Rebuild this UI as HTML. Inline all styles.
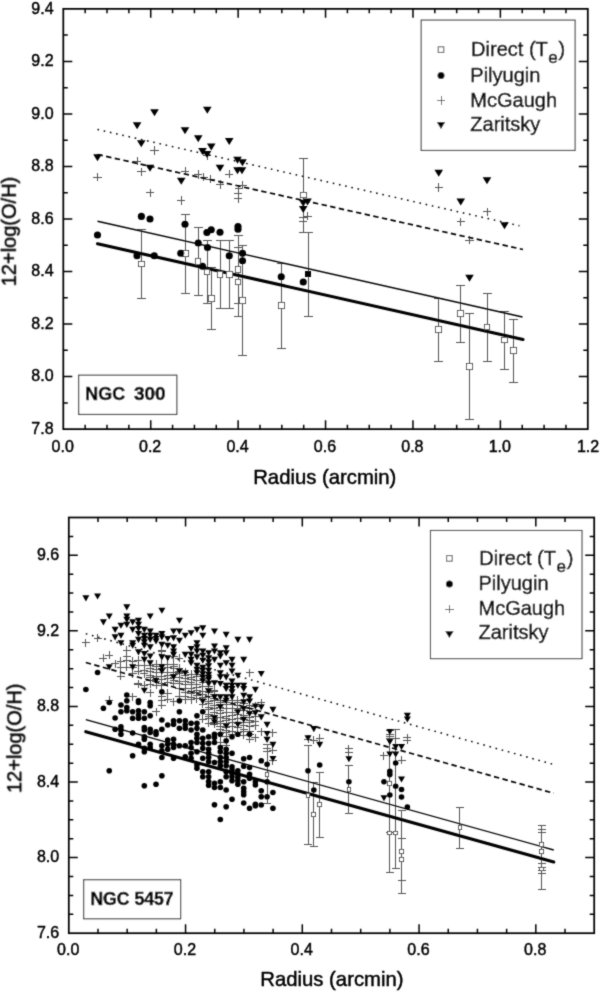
<!DOCTYPE html>
<html lang="en">
<head>
<meta charset="utf-8">
<title>12+log(O/H) versus Radius: NGC 300 and NGC 5457</title>
<style>
html,body{margin:0;padding:0;background:#fff;}
body{width:600px;height:993px;overflow:hidden;}
svg{display:block;will-change:transform;}
text{font-family:"Liberation Sans",Arial,Helvetica,sans-serif;fill:#000;stroke:#000;stroke-width:0.45px;}
.tk{font-size:16px;}
.ax{font-size:20px;}
.ng{font-size:18.4px;font-weight:bold;}
.axx{font-size:20.3px;}
</style>
</head>
<body>
<svg width="600" height="993" viewBox="0 0 600 993">
<defs><filter id="soft" x="0" y="0" width="600" height="993" filterUnits="userSpaceOnUse"><feConvolveMatrix order="3" kernelMatrix="0.03 0.09 0.03 0.09 0.52 0.09 0.03 0.09 0.03" edgeMode="duplicate" preserveAlpha="false"/></filter></defs>
<rect width="600" height="993" fill="#fff"/>
<g filter="url(#soft)">
<g id="ngc300">
<path d="M85.15 429.15v-4.5M85.15 8.85v4.5M107.01 429.15v-4.5M107.01 8.85v4.5M128.86 429.15v-4.5M128.86 8.85v4.5M150.72 429.15v-9M150.72 8.85v9M172.57 429.15v-4.5M172.57 8.85v4.5M194.43 429.15v-4.5M194.43 8.85v4.5M216.28 429.15v-4.5M216.28 8.85v4.5M238.13 429.15v-9M238.13 8.85v9M259.99 429.15v-4.5M259.99 8.85v4.5M281.84 429.15v-4.5M281.84 8.85v4.5M303.7 429.15v-4.5M303.7 8.85v4.5M325.55 429.15v-9M325.55 8.85v9M347.4 429.15v-4.5M347.4 8.85v4.5M369.26 429.15v-4.5M369.26 8.85v4.5M391.11 429.15v-4.5M391.11 8.85v4.5M412.97 429.15v-9M412.97 8.85v9M434.82 429.15v-4.5M434.82 8.85v4.5M456.68 429.15v-4.5M456.68 8.85v4.5M478.53 429.15v-4.5M478.53 8.85v4.5M500.38 429.15v-9M500.38 8.85v9M522.24 429.15v-4.5M522.24 8.85v4.5M544.09 429.15v-4.5M544.09 8.85v4.5M565.95 429.15v-4.5M565.95 8.85v4.5M63.3 402.88h4.5M587.8 402.88h-4.5M63.3 376.61h9M587.8 376.61h-9M63.3 350.34h4.5M587.8 350.34h-4.5M63.3 324.08h9M587.8 324.08h-9M63.3 297.81h4.5M587.8 297.81h-4.5M63.3 271.54h9M587.8 271.54h-9M63.3 245.27h4.5M587.8 245.27h-4.5M63.3 219h9M587.8 219h-9M63.3 192.73h4.5M587.8 192.73h-4.5M63.3 166.46h9M587.8 166.46h-9M63.3 140.19h4.5M587.8 140.19h-4.5M63.3 113.93h9M587.8 113.93h-9M63.3 87.66h4.5M587.8 87.66h-4.5M63.3 61.39h9M587.8 61.39h-9M63.3 35.12h4.5M587.8 35.12h-4.5" stroke="#000" stroke-width="1.5" fill="none"/>
<rect x="63.3" y="8.85" width="524.5" height="420.3" fill="none" stroke="#000" stroke-width="1.75"/>
<text x="53.6" y="433.85" text-anchor="end" class="tk">7.8</text>
<text x="53.6" y="381.31" text-anchor="end" class="tk">8.0</text>
<text x="53.6" y="328.78" text-anchor="end" class="tk">8.2</text>
<text x="53.6" y="276.24" text-anchor="end" class="tk">8.4</text>
<text x="53.6" y="223.7" text-anchor="end" class="tk">8.6</text>
<text x="53.6" y="171.16" text-anchor="end" class="tk">8.8</text>
<text x="53.6" y="118.63" text-anchor="end" class="tk">9.0</text>
<text x="53.6" y="66.09" text-anchor="end" class="tk">9.2</text>
<text x="53.6" y="13.55" text-anchor="end" class="tk">9.4</text>
<text x="62.7" y="451.6" text-anchor="middle" class="tk">0.0</text>
<text x="150.12" y="451.6" text-anchor="middle" class="tk">0.2</text>
<text x="237.53" y="451.6" text-anchor="middle" class="tk">0.4</text>
<text x="324.95" y="451.6" text-anchor="middle" class="tk">0.6</text>
<text x="412.37" y="451.6" text-anchor="middle" class="tk">0.8</text>
<text x="499.78" y="451.6" text-anchor="middle" class="tk">1.0</text>
<text x="588.1" y="451.6" text-anchor="middle" class="tk">1.2</text>
<text x="324.8" y="484.3" text-anchor="middle" class="axx">Radius (arcmin)</text>
<text transform="translate(15.8 231.5) rotate(-90)" text-anchor="middle" class="ax">12+log(O/H)</text>
<path d="M141.4 229.5V298.25M136.9 229.5h9M136.9 298.25h9M185.5 214.25V293M181 214.25h9M181 293h9M198.1 227V295.5M193.6 227h9M193.6 295.5h9M207 240V303M202.5 240h9M202.5 303h9M211.25 267V329.5M206.75 267h9M206.75 329.5h9M220 240V308.75M215.5 240h9M215.5 308.75h9M229.25 240V308.75M224.75 240h9M224.75 308.75h9M238 235V303.5M233.5 235h9M233.5 303.5h9M238 247.25V316.5M233.5 247.25h9M233.5 316.5h9M242.5 245.75V355.75M238 245.75h9M238 355.75h9M281.25 263.75V348M276.75 263.75h9M276.75 348h9M303.25 158.25V232.5M298.75 158.25h9M298.75 232.5h9M308 232V316.5M303.5 232h9M303.5 316.5h9M438.75 298.75V361.25M434.25 298.75h9M434.25 361.25h9M460.75 285V342.5M456.25 285h9M456.25 342.5h9M469.5 313.75V419.25M465 313.75h9M465 419.25h9M487 293V361.25M482.5 293h9M482.5 361.25h9M504.5 311.75V369.25M500 311.75h9M500 369.25h9M513.25 319.5V382M508.75 319.5h9M508.75 382h9" stroke="#525252" stroke-width="1" fill="none" shape-rendering="crispEdges"/>
<path d="M93.3 177h8.4M97.5 172.8v8.4M133 161h8.4M137.2 156.8v8.4M137.2 171.8h8.4M141.4 167.6v8.4M150.3 150.5h8.4M154.5 146.3v8.4M145.8 192.9h8.4M150 188.7v8.4M177.05 200.5h8.4M181.25 196.3v8.4M180.8 171.25h8.4M185 167.05v8.4M193.8 174.5h8.4M198 170.3v8.4M199.55 177h8.4M203.75 172.8v8.4M202.8 155.5h8.4M207 151.3v8.4M206.3 179.25h8.4M210.5 175.05v8.4M215.8 184.5h8.4M220 180.3v8.4M225.05 174.25h8.4M229.25 170.05v8.4M234.55 188.75h8.4M238.75 184.55v8.4M238.3 185h8.4M242.5 180.8v8.4M233.8 193h8.4M238 188.8v8.4M233.8 198.75h8.4M238 194.55v8.4M299.05 217.5h8.4M303.25 213.3v8.4M303.3 216.25h8.4M307.5 212.05v8.4M299.05 221.25h8.4M303.25 217.05v8.4M434.55 187.5h8.4M438.75 183.3v8.4M482.8 211.75h8.4M487 207.55v8.4M456.55 221.75h8.4M460.75 217.55v8.4M465.3 240h8.4M469.5 235.8v8.4" stroke="#525252" stroke-width="1" fill="none" shape-rendering="crispEdges"/>
<line x1="97.5" y1="129.5" x2="519.5" y2="225.75" stroke="#000" stroke-width="1.5" stroke-dasharray="1.6 4.75"/>
<line x1="97.5" y1="154.5" x2="523" y2="249.5" stroke="#000" stroke-width="1.7" stroke-dasharray="5.4 3.43"/>
<line x1="97.5" y1="221.25" x2="522.5" y2="317" stroke="#000" stroke-width="1.3"/>
<line x1="97.5" y1="243.75" x2="523" y2="339.5" stroke="#000" stroke-width="3.1" stroke-linecap="round"/>
<g fill="#fff" stroke="#484848" stroke-width="1" shape-rendering="crispEdges"><rect x="138.6" y="261.2" width="5.6" height="5.6"/><rect x="182.7" y="250.45" width="5.6" height="5.6"/><rect x="195.3" y="258.45" width="5.6" height="5.6"/><rect x="204.2" y="269.2" width="5.6" height="5.6"/><rect x="208.45" y="295.45" width="5.6" height="5.6"/><rect x="217.2" y="271.45" width="5.6" height="5.6"/><rect x="226.45" y="271.45" width="5.6" height="5.6"/><rect x="235.2" y="266.45" width="5.6" height="5.6"/><rect x="235.2" y="279.2" width="5.6" height="5.6"/><rect x="239.7" y="297.95" width="5.6" height="5.6"/><rect x="278.45" y="302.95" width="5.6" height="5.6"/><rect x="300.45" y="192.2" width="5.6" height="5.6"/><rect x="304.9" y="271.15" width="6.2" height="6.2" fill="#000" stroke="none"/><rect x="435.95" y="326.7" width="5.6" height="5.6"/><rect x="457.95" y="310.95" width="5.6" height="5.6"/><rect x="466.7" y="363.45" width="5.6" height="5.6"/><rect x="484.2" y="324.2" width="5.6" height="5.6"/><rect x="501.7" y="337.2" width="5.6" height="5.6"/><rect x="510.45" y="347.7" width="5.6" height="5.6"/></g>
<g fill="#000"><circle cx="97.5" cy="235" r="3.55"/><circle cx="141.4" cy="216.4" r="3.55"/><circle cx="150" cy="219" r="3.55"/><circle cx="185" cy="224.25" r="3.55"/><circle cx="137" cy="255.75" r="3.55"/><circle cx="154.25" cy="255.75" r="3.55"/><circle cx="180.75" cy="253.25" r="3.55"/><circle cx="198.25" cy="243" r="3.55"/><circle cx="202.5" cy="266.25" r="3.55"/><circle cx="206.9" cy="232.5" r="3.55"/><circle cx="207.5" cy="247.5" r="3.55"/><circle cx="211.25" cy="229.8" r="3.55"/><circle cx="220" cy="232.2" r="3.55"/><circle cx="229.25" cy="255.75" r="3.55"/><circle cx="238" cy="226.5" r="3.55"/><circle cx="238" cy="229.3" r="3.55"/><circle cx="242.5" cy="253.25" r="3.55"/><circle cx="242.5" cy="260.75" r="3.55"/><circle cx="281.25" cy="276.75" r="3.55"/><circle cx="303.25" cy="282" r="3.55"/></g>
<g fill="#000"><path d="M93.2 154.25h8.6l-4.3 7.1z"/><path d="M132.8 122.25h8.6l-4.3 7.1z"/><path d="M150.2 109.25h8.6l-4.3 7.1z"/><path d="M136.95 140.25h8.6l-4.3 7.1z"/><path d="M145.7 164.75h8.6l-4.3 7.1z"/><path d="M180.7 127.25h8.6l-4.3 7.1z"/><path d="M176.95 177.75h8.6l-4.3 7.1z"/><path d="M193.95 135.25h8.6l-4.3 7.1z"/><path d="M203 106.75h8.6l-4.3 7.1z"/><path d="M198.2 148h8.6l-4.3 7.1z"/><path d="M202.7 151h8.6l-4.3 7.1z"/><path d="M206.95 143.5h8.6l-4.3 7.1z"/><path d="M215.7 164.75h8.6l-4.3 7.1z"/><path d="M224.95 138h8.6l-4.3 7.1z"/><path d="M233.2 156.75h8.6l-4.3 7.1z"/><path d="M238.2 159.25h8.6l-4.3 7.1z"/><path d="M233.2 167.25h8.6l-4.3 7.1z"/><path d="M237.7 167.25h8.6l-4.3 7.1z"/><path d="M303.2 198.5h8.6l-4.3 7.1z"/><path d="M298.95 199.75h8.6l-4.3 7.1z"/><path d="M298.95 206h8.6l-4.3 7.1z"/><path d="M434.45 169.75h8.6l-4.3 7.1z"/><path d="M482.7 177.25h8.6l-4.3 7.1z"/><path d="M456.45 198.5h8.6l-4.3 7.1z"/><path d="M500.2 222.25h8.6l-4.3 7.1z"/><path d="M465.2 274.75h8.6l-4.3 7.1z"/></g>
<rect x="421.2" y="20.1" width="153.9" height="130.3" fill="#fff" stroke="#3c3c3c" stroke-width="1.1"/><text x="471.1" y="56.1" class="ax">Direct (T<tspan dy="7.3" dx="0.6" font-size="17">e</tspan><tspan dy="-7.3" dx="0.6">)</tspan></text><text x="470.3" y="81.6" class="ax">Pilyugin</text><text x="470.3" y="106.5" class="ax">McGaugh</text><text x="470.3" y="131.2" class="ax">Zaritsky</text><rect x="438.2" y="46.8" width="5.6" height="5.6" fill="#fff" stroke="#555" stroke-width="1"/><circle cx="441" cy="75.4" r="3.5" fill="#000"/><path d="M436.8 100.6h8.4M441 96.4v8.4" stroke="#525252" stroke-width="1" fill="none" shape-rendering="crispEdges"/><g fill="#000"><path d="M436.8 122.05h8.4l-4.2 6.9z"/></g>
<rect x="78.7" y="375.2" width="98.1" height="39.2" fill="#fff" stroke="#333" stroke-width="1.1"/>
<text y="400.3" class="ng"><tspan x="85.3" font-size="17.9">NGC</tspan> <tspan x="133.9" font-size="19">300</tspan></text>
</g>
<g id="ngc5457">
<path d="M97.99 933.2v-4.5M97.99 517.5v4.5M127.18 933.2v-4.5M127.18 517.5v4.5M156.37 933.2v-4.5M156.37 517.5v4.5M185.56 933.2v-9M185.56 517.5v9M214.74 933.2v-4.5M214.74 517.5v4.5M243.93 933.2v-4.5M243.93 517.5v4.5M273.12 933.2v-4.5M273.12 517.5v4.5M302.31 933.2v-9M302.31 517.5v9M331.5 933.2v-4.5M331.5 517.5v4.5M360.69 933.2v-4.5M360.69 517.5v4.5M389.88 933.2v-4.5M389.88 517.5v4.5M419.07 933.2v-9M419.07 517.5v9M448.26 933.2v-4.5M448.26 517.5v4.5M477.44 933.2v-4.5M477.44 517.5v4.5M506.63 933.2v-4.5M506.63 517.5v4.5M535.82 933.2v-9M535.82 517.5v9M565.01 933.2v-4.5M565.01 517.5v4.5M68.8 914.3h4.5M594.2 914.3h-4.5M68.8 895.41h4.5M594.2 895.41h-4.5M68.8 876.51h4.5M594.2 876.51h-4.5M68.8 857.62h9M594.2 857.62h-9M68.8 838.72h4.5M594.2 838.72h-4.5M68.8 819.83h4.5M594.2 819.83h-4.5M68.8 800.93h4.5M594.2 800.93h-4.5M68.8 782.04h9M594.2 782.04h-9M68.8 763.14h4.5M594.2 763.14h-4.5M68.8 744.25h4.5M594.2 744.25h-4.5M68.8 725.35h4.5M594.2 725.35h-4.5M68.8 706.45h9M594.2 706.45h-9M68.8 687.56h4.5M594.2 687.56h-4.5M68.8 668.66h4.5M594.2 668.66h-4.5M68.8 649.77h4.5M594.2 649.77h-4.5M68.8 630.87h9M594.2 630.87h-9M68.8 611.98h4.5M594.2 611.98h-4.5M68.8 593.08h4.5M594.2 593.08h-4.5M68.8 574.19h4.5M594.2 574.19h-4.5M68.8 555.29h9M594.2 555.29h-9M68.8 536.4h4.5M594.2 536.4h-4.5" stroke="#000" stroke-width="1.5" fill="none"/>
<rect x="68.8" y="517.5" width="525.4" height="415.7" fill="none" stroke="#000" stroke-width="1.75"/>
<text x="59.2" y="937.9" text-anchor="end" class="tk">7.6</text>
<text x="59.2" y="862.32" text-anchor="end" class="tk">8.0</text>
<text x="59.2" y="786.74" text-anchor="end" class="tk">8.4</text>
<text x="59.2" y="711.15" text-anchor="end" class="tk">8.8</text>
<text x="59.2" y="635.57" text-anchor="end" class="tk">9.2</text>
<text x="59.2" y="559.99" text-anchor="end" class="tk">9.6</text>
<text x="68.2" y="955" text-anchor="middle" class="tk">0.0</text>
<text x="184.96" y="955" text-anchor="middle" class="tk">0.2</text>
<text x="301.71" y="955" text-anchor="middle" class="tk">0.4</text>
<text x="418.47" y="955" text-anchor="middle" class="tk">0.6</text>
<text x="535.22" y="955" text-anchor="middle" class="tk">0.8</text>
<text x="331.9" y="986.3" text-anchor="middle" class="axx">Radius (arcmin)</text>
<text transform="translate(21.3 738.3) rotate(-90)" text-anchor="middle" class="ax">12+log(O/H)</text>
<path d="M267.08 744.2V803M263.08 744.2h8M263.08 803h8M308 745.8V844.5M304 745.8h8M304 844.5h8M313.84 782.2V846.3M309.84 782.2h8M309.84 846.3h8M319.68 772.5V837M315.68 772.5h8M315.68 837h8M348.91 765V813.75M344.91 765h8M344.91 813.75h8M389.82 730V872.5M385.82 730h8M385.82 872.5h8M395.67 729.5V868.75M391.67 729.5h8M391.67 868.75h8M401.51 810.5V893M397.51 810.5h8M397.51 838.75h8M397.51 880.5h8M397.51 893h8M459.97 807V848.25M455.97 807h8M455.97 848.25h8M541.79 825.5V889.75M537.79 825.5h8M537.79 829.5h8M537.79 832.5h8M537.79 863.5h8M537.79 867h8M537.79 870.5h8M537.79 873.5h8M537.79 889.75h8" stroke="#525252" stroke-width="1" fill="none" shape-rendering="crispEdges"/>
<path d="M81.88 642.5h8M85.88 638.5v8M93.57 638.3h8M97.57 634.3v8M99.42 658.3h8M103.42 654.3v8M105.26 655h8M109.26 651v8M105.26 700h8M109.26 696v8M111.11 663.75h8M115.11 659.75v8M116.95 661.25h8M120.95 657.25v8M116.95 667.5h8M120.95 663.5v8M116.95 676.25h8M120.95 672.25v8M122.8 650h8M126.8 646v8M122.8 656.25h8M126.8 652.25v8M122.8 660h8M126.8 656v8M122.8 667h8M126.8 663v8M128.64 661.25h8M132.64 657.25v8M128.64 667.5h8M132.64 663.5v8M128.64 673.75h8M132.64 669.75v8M128.64 696.5h8M132.64 692.5v8M134.49 660h8M138.49 656v8M134.49 665h8M138.49 661v8M134.49 671.25h8M138.49 667.25v8M134.49 683.75h8M138.49 679.75v8M134.49 684.2h8M138.49 680.2v8M140.33 665h8M144.33 661v8M140.33 670h8M144.33 666v8M140.33 673.75h8M144.33 669.75v8M140.33 685h8M144.33 681v8M146.18 665h8M150.18 661v8M146.18 668.8h8M150.18 664.8v8M146.18 671.5h8M150.18 667.5v8M146.18 675.3h8M150.18 671.3v8M146.18 677.4h8M150.18 673.4v8M146.18 680.8h8M150.18 676.8v8M146.18 684.1h8M150.18 680.1v8M146.18 692.5h8M150.18 688.5v8M152.02 664h8M156.02 660v8M152.02 666.9h8M156.02 662.9v8M152.02 669.5h8M156.02 665.5v8M152.02 672.4h8M156.02 668.4v8M152.02 676.7h8M156.02 672.7v8M152.02 679h8M156.02 675v8M152.02 681.7h8M156.02 677.7v8M152.02 685.4h8M156.02 681.4v8M152.02 711.5h8M156.02 707.5v8M157.87 650h8M161.87 646v8M157.87 651.7h8M161.87 647.7v8M157.87 664h8M161.87 660v8M157.87 668.7h8M161.87 664.7v8M157.87 672.9h8M161.87 668.9v8M157.87 676.1h8M161.87 672.1v8M157.87 679.6h8M161.87 675.6v8M157.87 683.2h8M161.87 679.2v8M157.87 685.8h8M161.87 681.8v8M157.87 696.7h8M161.87 692.7v8M157.87 700.8h8M161.87 696.8v8M157.87 705h8M161.87 701v8M163.71 664h8M167.71 660v8M163.71 667.9h8M167.71 663.9v8M163.71 672.7h8M167.71 668.7v8M163.71 675.5h8M167.71 671.5v8M163.71 678.6h8M167.71 674.6v8M163.71 682.5h8M167.71 678.5v8M163.71 693h8M167.71 689v8M163.71 699h8M167.71 695v8M169.56 656.7h8M173.56 652.7v8M169.56 664h8M173.56 660v8M169.56 666.3h8M173.56 662.3v8M169.56 668.2h8M173.56 664.2v8M169.56 672.3h8M173.56 668.3v8M169.56 674.3h8M173.56 670.3v8M169.56 677.9h8M173.56 673.9v8M169.56 680.4h8M173.56 676.4v8M169.56 683.9h8M173.56 679.9v8M169.56 701.7h8M173.56 697.7v8M175.4 658h8M179.4 654v8M175.4 668h8M179.4 664v8M175.4 671h8M179.4 667v8M175.4 673.4h8M179.4 669.4v8M175.4 677.1h8M179.4 673.1v8M175.4 681h8M179.4 677v8M175.4 683.8h8M179.4 679.8v8M175.4 688.5h8M179.4 684.5v8M175.4 696.7h8M179.4 692.7v8M181.25 672h8M185.25 668v8M181.25 675h8M185.25 671v8M181.25 678.9h8M185.25 674.9v8M181.25 681.1h8M185.25 677.1v8M181.25 684.7h8M185.25 680.7v8M181.25 688.1h8M185.25 684.1v8M181.25 692h8M185.25 688v8M181.25 696.5h8M185.25 692.5v8M181.25 699.5h8M185.25 695.5v8M187.09 674h8M191.09 670v8M187.09 677.7h8M191.09 673.7v8M187.09 679.5h8M191.09 675.5v8M187.09 682.4h8M191.09 678.4v8M187.09 684.6h8M191.09 680.6v8M187.09 688.1h8M191.09 684.1v8M187.09 691h8M191.09 687v8M187.09 693.2h8M191.09 689.2v8M187.09 697.4h8M191.09 693.4v8M187.09 699.5h8M191.09 695.5v8M192.94 674h8M196.94 670v8M192.94 676.4h8M196.94 672.4v8M192.94 680.9h8M196.94 676.9v8M192.94 684.3h8M196.94 680.3v8M192.94 687.6h8M196.94 683.6v8M192.94 690.5h8M196.94 686.5v8M192.94 692.6h8M196.94 688.6v8M192.94 695.8h8M196.94 691.8v8M192.94 698.5h8M196.94 694.5v8M198.78 680h8M202.78 676v8M198.78 682.2h8M202.78 678.2v8M198.78 686.8h8M202.78 682.8v8M198.78 691h8M202.78 687v8M198.78 694.1h8M202.78 690.1v8M198.78 697.6h8M202.78 693.6v8M198.78 699.4h8M202.78 695.4v8M198.78 704.1h8M202.78 700.1v8M198.78 719.2h8M202.78 715.2v8M204.63 686h8M208.63 682v8M204.63 688.9h8M208.63 684.9v8M204.63 692.9h8M208.63 688.9v8M204.63 696.8h8M208.63 692.8v8M204.63 701.1h8M208.63 697.1v8M204.63 703.5h8M208.63 699.5v8M204.63 707.4h8M208.63 703.4v8M204.63 709.3h8M208.63 705.3v8M204.63 714.1h8M208.63 710.1v8M204.63 716h8M208.63 712v8M204.63 718.3h8M208.63 714.3v8M204.63 723.1h8M208.63 719.1v8M210.47 690h8M214.47 686v8M210.47 691.9h8M214.47 687.9v8M210.47 694.5h8M214.47 690.5v8M210.47 698.2h8M214.47 694.2v8M210.47 700.5h8M214.47 696.5v8M210.47 705h8M214.47 701v8M210.47 708.1h8M214.47 704.1v8M210.47 712.5h8M214.47 708.5v8M210.47 715.8h8M214.47 711.8v8M210.47 718.1h8M214.47 714.1v8M210.47 722.2h8M214.47 718.2v8M210.47 724h8M214.47 720v8M216.32 700h8M220.32 696v8M216.32 702.7h8M220.32 698.7v8M216.32 704.9h8M220.32 700.9v8M216.32 707.3h8M220.32 703.3v8M216.32 710.5h8M220.32 706.5v8M216.32 713h8M220.32 709v8M216.32 717.1h8M220.32 713.1v8M216.32 721h8M220.32 717v8M216.32 723.6h8M220.32 719.6v8M216.32 726.1h8M220.32 722.1v8M216.32 729.9h8M220.32 725.9v8M216.32 733.5h8M220.32 729.5v8M216.32 742h8M220.32 738v8M222.16 700h8M226.16 696v8M222.16 702.5h8M226.16 698.5v8M222.16 704.7h8M226.16 700.7v8M222.16 708.1h8M226.16 704.1v8M222.16 712.9h8M226.16 708.9v8M222.16 716h8M226.16 712v8M222.16 718.9h8M226.16 714.9v8M222.16 720.9h8M226.16 716.9v8M222.16 723.6h8M226.16 719.6v8M222.16 727.5h8M226.16 723.5v8M222.16 730h8M226.16 726v8M222.16 732.9h8M226.16 728.9v8M222.16 736h8M226.16 732v8M222.16 745h8M226.16 741v8M228.01 700h8M232.01 696v8M228.01 704.2h8M232.01 700.2v8M228.01 708.7h8M232.01 704.7v8M228.01 712.4h8M232.01 708.4v8M228.01 715.6h8M232.01 711.6v8M228.01 719.1h8M232.01 715.1v8M228.01 722.8h8M232.01 718.8v8M228.01 726.8h8M232.01 722.8v8M228.01 731.3h8M232.01 727.3v8M228.01 734.3h8M232.01 730.3v8M233.85 700h8M237.85 696v8M233.85 702h8M237.85 698v8M233.85 705.1h8M237.85 701.1v8M233.85 708.2h8M237.85 704.2v8M233.85 710.6h8M237.85 706.6v8M233.85 714.3h8M237.85 710.3v8M233.85 718.9h8M237.85 714.9v8M233.85 723h8M237.85 719v8M233.85 727.7h8M237.85 723.7v8M233.85 732.2h8M237.85 728.2v8M239.7 700h8M243.7 696v8M239.7 703.8h8M243.7 699.8v8M239.7 707.1h8M243.7 703.1v8M239.7 710.8h8M243.7 706.8v8M239.7 715.5h8M243.7 711.5v8M239.7 717.4h8M243.7 713.4v8M239.7 719.3h8M243.7 715.3v8M239.7 722.1h8M243.7 718.1v8M239.7 725.7h8M243.7 721.7v8M239.7 729.5h8M243.7 725.5v8M239.7 731.6h8M243.7 727.6v8M239.7 735.2h8M243.7 731.2v8M245.54 672.5h8M249.54 668.5v8M245.54 705h8M249.54 701v8M245.54 708.9h8M249.54 704.9v8M245.54 713.4h8M249.54 709.4v8M245.54 717.7h8M249.54 713.7v8M245.54 720.4h8M249.54 716.4v8M245.54 722.5h8M249.54 718.5v8M245.54 726.5h8M249.54 722.5v8M245.54 731.1h8M249.54 727.1v8M245.54 734.6h8M249.54 730.6v8M245.54 739.1h8M249.54 735.1v8M251.39 706h8M255.39 702v8M251.39 716.7h8M255.39 712.7v8M251.39 721h8M255.39 717v8M251.39 725.8h8M255.39 721.8v8M251.39 737.5h8M255.39 733.5v8M257.24 702.5h8M261.24 698.5v8M257.24 731.7h8M261.24 727.7v8M263.08 748.3h8M267.08 744.3v8M263.08 751.7h8M267.08 747.7v8M268.92 732.5h8M272.92 728.5v8M268.92 750h8M272.92 746v8M268.92 760.8h8M272.92 756.8v8M304 739.2h8M308 735.2v8M309.84 740h8M313.84 736v8M315.68 738.3h8M319.68 734.3v8M344.91 748.75h8M348.91 744.75v8M344.91 752.5h8M348.91 748.5v8M379.98 755.5h8M383.98 751.5v8M385.82 734.6h8M389.82 730.6v8M385.82 736.6h8M389.82 732.6v8M385.82 738.6h8M389.82 734.6v8M385.82 832.5h8M389.82 828.5v8M391.67 738.75h8M395.67 734.75v8M397.51 760h8M401.51 756v8M397.51 838.75h8M401.51 834.75v8M403.36 737.6h8M407.36 733.6v8M403.36 740.2h8M407.36 736.2v8" stroke="#525252" stroke-width="1" fill="none" shape-rendering="crispEdges"/>
<line x1="85.8" y1="633.7" x2="553.75" y2="764.5" stroke="#000" stroke-width="1.5" stroke-dasharray="1.6 4.75"/>
<line x1="85.8" y1="662.5" x2="553.75" y2="793.25" stroke="#000" stroke-width="1.7" stroke-dasharray="5.4 3.43"/>
<line x1="85.8" y1="719.7" x2="553.75" y2="850" stroke="#000" stroke-width="1.3"/>
<line x1="85.8" y1="731.7" x2="553.75" y2="862" stroke="#000" stroke-width="3.1" stroke-linecap="round"/>
<g fill="#fff" stroke="#484848" stroke-width="1" shape-rendering="crispEdges"><rect x="265.18" y="772.3" width="3.8" height="3.8"/><rect x="306.1" y="793.6" width="3.8" height="3.8"/><rect x="311.94" y="812.3" width="3.8" height="3.8"/><rect x="317.78" y="802.8" width="3.8" height="3.8"/><rect x="347.01" y="787.35" width="3.8" height="3.8"/><rect x="387.92" y="781.85" width="3.8" height="3.8"/><rect x="387.92" y="831.1" width="3.8" height="3.8"/><rect x="393.77" y="831.1" width="3.8" height="3.8"/><rect x="399.62" y="849.35" width="3.8" height="3.8"/><rect x="399.62" y="857.6" width="3.8" height="3.8"/><rect x="458.07" y="825.6" width="3.8" height="3.8"/><rect x="539.89" y="842.3" width="3.8" height="3.8"/><rect x="539.89" y="849.7" width="3.8" height="3.8"/><rect x="539.89" y="867.1" width="3.8" height="3.8"/></g>
<g fill="#000"><circle cx="85.88" cy="689.5" r="2.8"/><circle cx="97.57" cy="672.5" r="2.8"/><circle cx="103.42" cy="708.3" r="2.8"/><circle cx="109.26" cy="702.5" r="2.8"/><circle cx="109.26" cy="770.8" r="2.8"/><circle cx="115.11" cy="718" r="2.8"/><circle cx="115.11" cy="729.2" r="2.8"/><circle cx="120.95" cy="705" r="2.8"/><circle cx="120.95" cy="711.7" r="2.8"/><circle cx="120.95" cy="726.7" r="2.8"/><circle cx="120.95" cy="730" r="2.8"/><circle cx="120.95" cy="734.2" r="2.8"/><circle cx="126.8" cy="695" r="2.8"/><circle cx="126.8" cy="700.8" r="2.8"/><circle cx="126.8" cy="707.5" r="2.8"/><circle cx="126.8" cy="710.8" r="2.8"/><circle cx="132.64" cy="711.7" r="2.8"/><circle cx="132.64" cy="718.3" r="2.8"/><circle cx="132.64" cy="733" r="2.8"/><circle cx="132.64" cy="755.8" r="2.8"/><circle cx="138.49" cy="700.8" r="2.8"/><circle cx="138.49" cy="702.5" r="2.8"/><circle cx="138.49" cy="710.8" r="2.8"/><circle cx="138.49" cy="715" r="2.8"/><circle cx="138.49" cy="718.3" r="2.8"/><circle cx="138.49" cy="744.2" r="2.8"/><circle cx="144.33" cy="711.7" r="2.8"/><circle cx="144.33" cy="718.3" r="2.8"/><circle cx="144.33" cy="727.5" r="2.8"/><circle cx="144.33" cy="730" r="2.8"/><circle cx="144.33" cy="736.7" r="2.8"/><circle cx="144.33" cy="739.2" r="2.8"/><circle cx="144.33" cy="748.3" r="2.8"/><circle cx="144.33" cy="751.7" r="2.8"/><circle cx="144.33" cy="785.8" r="2.8"/><circle cx="150.18" cy="702.5" r="2.8"/><circle cx="150.18" cy="705.8" r="2.8"/><circle cx="150.18" cy="715.8" r="2.8"/><circle cx="150.18" cy="729.2" r="2.8"/><circle cx="150.18" cy="732.5" r="2.8"/><circle cx="150.18" cy="744.2" r="2.8"/><circle cx="150.18" cy="747.5" r="2.8"/><circle cx="156.02" cy="731.7" r="2.8"/><circle cx="156.02" cy="734.2" r="2.8"/><circle cx="156.02" cy="784.2" r="2.8"/><circle cx="161.87" cy="691.7" r="2.8"/><circle cx="161.87" cy="720" r="2.8"/><circle cx="161.87" cy="729.2" r="2.8"/><circle cx="161.87" cy="745.8" r="2.8"/><circle cx="161.87" cy="750.8" r="2.8"/><circle cx="161.87" cy="757.5" r="2.8"/><circle cx="161.87" cy="775.8" r="2.8"/><circle cx="167.71" cy="725" r="2.8"/><circle cx="167.71" cy="740" r="2.8"/><circle cx="167.71" cy="744.2" r="2.8"/><circle cx="167.71" cy="749.2" r="2.8"/><circle cx="173.56" cy="720.8" r="2.8"/><circle cx="173.56" cy="724.2" r="2.8"/><circle cx="173.56" cy="739.2" r="2.8"/><circle cx="173.56" cy="744.2" r="2.8"/><circle cx="173.56" cy="747.5" r="2.8"/><circle cx="173.56" cy="758.3" r="2.8"/><circle cx="179.4" cy="700.8" r="2.8"/><circle cx="179.4" cy="711.7" r="2.8"/><circle cx="179.4" cy="720.8" r="2.8"/><circle cx="179.4" cy="728.3" r="2.8"/><circle cx="179.4" cy="745.8" r="2.8"/><circle cx="185.25" cy="720.8" r="2.8"/><circle cx="185.25" cy="725" r="2.8"/><circle cx="185.25" cy="728.3" r="2.8"/><circle cx="185.25" cy="745.8" r="2.8"/><circle cx="185.25" cy="756.7" r="2.8"/><circle cx="191.09" cy="723.3" r="2.8"/><circle cx="191.09" cy="730" r="2.8"/><circle cx="191.09" cy="742.5" r="2.8"/><circle cx="191.09" cy="747.5" r="2.8"/><circle cx="191.09" cy="753.3" r="2.8"/><circle cx="191.09" cy="758.3" r="2.8"/><circle cx="196.94" cy="715.8" r="2.8"/><circle cx="196.94" cy="723.3" r="2.8"/><circle cx="196.94" cy="728.3" r="2.8"/><circle cx="196.94" cy="734.2" r="2.8"/><circle cx="196.94" cy="738.3" r="2.8"/><circle cx="196.94" cy="742.5" r="2.8"/><circle cx="196.94" cy="751.7" r="2.8"/><circle cx="196.94" cy="765" r="2.8"/><circle cx="196.94" cy="768.3" r="2.8"/><circle cx="202.78" cy="711.7" r="2.8"/><circle cx="202.78" cy="730" r="2.8"/><circle cx="202.78" cy="738.3" r="2.8"/><circle cx="202.78" cy="743.3" r="2.8"/><circle cx="202.78" cy="748.3" r="2.8"/><circle cx="202.78" cy="758.3" r="2.8"/><circle cx="202.78" cy="771.7" r="2.8"/><circle cx="202.78" cy="776.7" r="2.8"/><circle cx="208.63" cy="736.7" r="2.8"/><circle cx="208.63" cy="743.3" r="2.8"/><circle cx="208.63" cy="749.2" r="2.8"/><circle cx="208.63" cy="753.3" r="2.8"/><circle cx="208.63" cy="757.5" r="2.8"/><circle cx="208.63" cy="761.7" r="2.8"/><circle cx="208.63" cy="771.7" r="2.8"/><circle cx="208.63" cy="776.7" r="2.8"/><circle cx="208.63" cy="781.6" r="2.8"/><circle cx="208.63" cy="785.2" r="2.8"/><circle cx="214.47" cy="734.2" r="2.8"/><circle cx="214.47" cy="737.5" r="2.8"/><circle cx="214.47" cy="742.5" r="2.8"/><circle cx="214.47" cy="762.5" r="2.8"/><circle cx="214.47" cy="783.3" r="2.8"/><circle cx="214.47" cy="787.5" r="2.8"/><circle cx="214.47" cy="804.7" r="2.8"/><circle cx="220.32" cy="734.2" r="2.8"/><circle cx="220.32" cy="747.5" r="2.8"/><circle cx="220.32" cy="751.7" r="2.8"/><circle cx="220.32" cy="757.5" r="2.8"/><circle cx="220.32" cy="761.7" r="2.8"/><circle cx="220.32" cy="765.8" r="2.8"/><circle cx="220.32" cy="781.7" r="2.8"/><circle cx="220.32" cy="787.5" r="2.8"/><circle cx="220.32" cy="819.5" r="2.8"/><circle cx="226.16" cy="740.8" r="2.8"/><circle cx="226.16" cy="749.2" r="2.8"/><circle cx="226.16" cy="753.3" r="2.8"/><circle cx="226.16" cy="757.5" r="2.8"/><circle cx="226.16" cy="761.7" r="2.8"/><circle cx="226.16" cy="765.8" r="2.8"/><circle cx="226.16" cy="771.7" r="2.8"/><circle cx="226.16" cy="776.7" r="2.8"/><circle cx="226.16" cy="790" r="2.8"/><circle cx="226.16" cy="806.7" r="2.8"/><circle cx="232.01" cy="736.7" r="2.8"/><circle cx="232.01" cy="753.3" r="2.8"/><circle cx="232.01" cy="766.7" r="2.8"/><circle cx="232.01" cy="770" r="2.8"/><circle cx="232.01" cy="773.3" r="2.8"/><circle cx="232.01" cy="776.7" r="2.8"/><circle cx="232.01" cy="780.8" r="2.8"/><circle cx="232.01" cy="799.2" r="2.8"/><circle cx="237.85" cy="734.2" r="2.8"/><circle cx="237.85" cy="770.8" r="2.8"/><circle cx="237.85" cy="774.2" r="2.8"/><circle cx="237.85" cy="777.5" r="2.8"/><circle cx="237.85" cy="780.8" r="2.8"/><circle cx="237.85" cy="784.2" r="2.8"/><circle cx="243.7" cy="758.8" r="2.8"/><circle cx="243.7" cy="766.2" r="2.8"/><circle cx="243.7" cy="781.7" r="2.8"/><circle cx="243.7" cy="788.3" r="2.8"/><circle cx="243.7" cy="791.7" r="2.8"/><circle cx="243.7" cy="794.7" r="2.8"/><circle cx="243.7" cy="803" r="2.8"/><circle cx="249.54" cy="734.2" r="2.8"/><circle cx="249.54" cy="757.5" r="2.8"/><circle cx="249.54" cy="767.5" r="2.8"/><circle cx="249.54" cy="774.2" r="2.8"/><circle cx="249.54" cy="778.3" r="2.8"/><circle cx="249.54" cy="808.3" r="2.8"/><circle cx="255.39" cy="781.7" r="2.8"/><circle cx="255.39" cy="785" r="2.8"/><circle cx="255.39" cy="804.2" r="2.8"/><circle cx="255.39" cy="805.8" r="2.8"/><circle cx="261.24" cy="760.8" r="2.8"/><circle cx="261.24" cy="790.8" r="2.8"/><circle cx="261.24" cy="796.7" r="2.8"/><circle cx="261.24" cy="805" r="2.8"/><circle cx="267.08" cy="764.2" r="2.8"/><circle cx="267.08" cy="781.7" r="2.8"/><circle cx="267.08" cy="796.7" r="2.8"/><circle cx="272.92" cy="792.5" r="2.8"/><circle cx="272.92" cy="808.3" r="2.8"/><circle cx="308" cy="770.8" r="2.8"/><circle cx="313.84" cy="790" r="2.8"/><circle cx="319.68" cy="765" r="2.8"/><circle cx="348.91" cy="781.75" r="2.8"/><circle cx="383.98" cy="781.75" r="2.8"/><circle cx="389.82" cy="771.4" r="2.8"/><circle cx="389.82" cy="774.6" r="2.8"/><circle cx="389.82" cy="795" r="2.8"/><circle cx="395.67" cy="763" r="2.8"/><circle cx="395.67" cy="786.25" r="2.8"/><circle cx="401.51" cy="789.5" r="2.8"/><circle cx="401.51" cy="797" r="2.8"/><circle cx="407.36" cy="807" r="2.8"/></g>
<g fill="#000"><path d="M82.38 595.35h7l-3.5 6.1z"/><path d="M94.07 593.45h7l-3.5 6.1z"/><path d="M99.92 619.35h7l-3.5 6.1z"/><path d="M105.76 613.45h7l-3.5 6.1z"/><path d="M105.76 664.35h7l-3.5 6.1z"/><path d="M111.61 626.85h7l-3.5 6.1z"/><path d="M111.61 634.35h7l-3.5 6.1z"/><path d="M117.45 622.65h7l-3.5 6.1z"/><path d="M117.45 632.65h7l-3.5 6.1z"/><path d="M117.45 640.15h7l-3.5 6.1z"/><path d="M123.3 604.35h7l-3.5 6.1z"/><path d="M123.3 613.45h7l-3.5 6.1z"/><path d="M123.3 616.85h7l-3.5 6.1z"/><path d="M123.3 621.85h7l-3.5 6.1z"/><path d="M129.14 619.35h7l-3.5 6.1z"/><path d="M129.14 626.85h7l-3.5 6.1z"/><path d="M129.14 640.15h7l-3.5 6.1z"/><path d="M129.14 642.65h7l-3.5 6.1z"/><path d="M129.14 664.35h7l-3.5 6.1z"/><path d="M134.99 617.65h7l-3.5 6.1z"/><path d="M134.99 621.85h7l-3.5 6.1z"/><path d="M134.99 625.95h7l-3.5 6.1z"/><path d="M134.99 630.95h7l-3.5 6.1z"/><path d="M134.99 636.85h7l-3.5 6.1z"/><path d="M134.99 649.35h7l-3.5 6.1z"/><path d="M140.83 626.85h7l-3.5 6.1z"/><path d="M140.83 632.65h7l-3.5 6.1z"/><path d="M140.83 635.95h7l-3.5 6.1z"/><path d="M140.83 639.35h7l-3.5 6.1z"/><path d="M140.83 642.65h7l-3.5 6.1z"/><path d="M140.83 650.95h7l-3.5 6.1z"/><path d="M140.83 656.85h7l-3.5 6.1z"/><path d="M140.83 687.65h7l-3.5 6.1z"/><path d="M146.68 613.45h7l-3.5 6.1z"/><path d="M146.68 628.45h7l-3.5 6.1z"/><path d="M146.68 632.65h7l-3.5 6.1z"/><path d="M146.68 636.85h7l-3.5 6.1z"/><path d="M146.68 644.35h7l-3.5 6.1z"/><path d="M146.68 653.45h7l-3.5 6.1z"/><path d="M146.68 660.15h7l-3.5 6.1z"/><path d="M152.52 632.65h7l-3.5 6.1z"/><path d="M152.52 635.95h7l-3.5 6.1z"/><path d="M152.52 638.45h7l-3.5 6.1z"/><path d="M152.52 677.65h7l-3.5 6.1z"/><path d="M158.37 607.65h7l-3.5 6.1z"/><path d="M158.37 630.95h7l-3.5 6.1z"/><path d="M158.37 634.35h7l-3.5 6.1z"/><path d="M158.37 641.85h7l-3.5 6.1z"/><path d="M158.37 654.35h7l-3.5 6.1z"/><path d="M158.37 664.35h7l-3.5 6.1z"/><path d="M158.37 668.45h7l-3.5 6.1z"/><path d="M164.21 635.95h7l-3.5 6.1z"/><path d="M164.21 642.65h7l-3.5 6.1z"/><path d="M164.21 655.15h7l-3.5 6.1z"/><path d="M170.06 628.45h7l-3.5 6.1z"/><path d="M170.06 635.15h7l-3.5 6.1z"/><path d="M170.06 644.35h7l-3.5 6.1z"/><path d="M170.06 648.45h7l-3.5 6.1z"/><path d="M170.06 651.85h7l-3.5 6.1z"/><path d="M170.06 674.35h7l-3.5 6.1z"/><path d="M175.9 617.65h7l-3.5 6.1z"/><path d="M175.9 628.45h7l-3.5 6.1z"/><path d="M175.9 637.65h7l-3.5 6.1z"/><path d="M175.9 668.45h7l-3.5 6.1z"/><path d="M181.75 632.65h7l-3.5 6.1z"/><path d="M181.75 651.85h7l-3.5 6.1z"/><path d="M181.75 670.15h7l-3.5 6.1z"/><path d="M187.59 630.15h7l-3.5 6.1z"/><path d="M187.59 645.95h7l-3.5 6.1z"/><path d="M187.59 651.85h7l-3.5 6.1z"/><path d="M187.59 656.85h7l-3.5 6.1z"/><path d="M187.59 660.15h7l-3.5 6.1z"/><path d="M193.44 626.85h7l-3.5 6.1z"/><path d="M193.44 640.15h7l-3.5 6.1z"/><path d="M193.44 644.35h7l-3.5 6.1z"/><path d="M193.44 648.45h7l-3.5 6.1z"/><path d="M193.44 654.35h7l-3.5 6.1z"/><path d="M193.44 662.65h7l-3.5 6.1z"/><path d="M193.44 666.85h7l-3.5 6.1z"/><path d="M193.44 670.15h7l-3.5 6.1z"/><path d="M199.28 625.15h7l-3.5 6.1z"/><path d="M199.28 632.65h7l-3.5 6.1z"/><path d="M199.28 648.45h7l-3.5 6.1z"/><path d="M199.28 652.65h7l-3.5 6.1z"/><path d="M199.28 657.65h7l-3.5 6.1z"/><path d="M199.28 664.65h7l-3.5 6.1z"/><path d="M199.28 667.65h7l-3.5 6.1z"/><path d="M199.28 671.15h7l-3.5 6.1z"/><path d="M199.28 674.65h7l-3.5 6.1z"/><path d="M199.28 678.15h7l-3.5 6.1z"/><path d="M199.28 698.45h7l-3.5 6.1z"/><path d="M205.13 650.15h7l-3.5 6.1z"/><path d="M205.13 655.15h7l-3.5 6.1z"/><path d="M205.13 659.35h7l-3.5 6.1z"/><path d="M205.13 663.15h7l-3.5 6.1z"/><path d="M205.13 667.65h7l-3.5 6.1z"/><path d="M205.13 671.85h7l-3.5 6.1z"/><path d="M205.13 674.65h7l-3.5 6.1z"/><path d="M205.13 676.85h7l-3.5 6.1z"/><path d="M205.13 680.95h7l-3.5 6.1z"/><path d="M205.13 688.45h7l-3.5 6.1z"/><path d="M210.97 628.45h7l-3.5 6.1z"/><path d="M210.97 643.45h7l-3.5 6.1z"/><path d="M210.97 648.45h7l-3.5 6.1z"/><path d="M210.97 656.85h7l-3.5 6.1z"/><path d="M210.97 680.15h7l-3.5 6.1z"/><path d="M210.97 694.35h7l-3.5 6.1z"/><path d="M210.97 715.15h7l-3.5 6.1z"/><path d="M210.97 719.35h7l-3.5 6.1z"/><path d="M216.82 650.15h7l-3.5 6.1z"/><path d="M216.82 653.45h7l-3.5 6.1z"/><path d="M216.82 662.65h7l-3.5 6.1z"/><path d="M216.82 670.15h7l-3.5 6.1z"/><path d="M216.82 674.35h7l-3.5 6.1z"/><path d="M216.82 680.95h7l-3.5 6.1z"/><path d="M216.82 694.35h7l-3.5 6.1z"/><path d="M216.82 704.35h7l-3.5 6.1z"/><path d="M222.66 631.85h7l-3.5 6.1z"/><path d="M222.66 645.15h7l-3.5 6.1z"/><path d="M222.66 650.15h7l-3.5 6.1z"/><path d="M222.66 660.15h7l-3.5 6.1z"/><path d="M222.66 674.35h7l-3.5 6.1z"/><path d="M222.66 682.65h7l-3.5 6.1z"/><path d="M222.66 685.95h7l-3.5 6.1z"/><path d="M222.66 694.35h7l-3.5 6.1z"/><path d="M222.66 697.65h7l-3.5 6.1z"/><path d="M222.66 723.45h7l-3.5 6.1z"/><path d="M228.51 656.85h7l-3.5 6.1z"/><path d="M228.51 662.65h7l-3.5 6.1z"/><path d="M228.51 668.45h7l-3.5 6.1z"/><path d="M228.51 678.45h7l-3.5 6.1z"/><path d="M228.51 682.65h7l-3.5 6.1z"/><path d="M228.51 685.95h7l-3.5 6.1z"/><path d="M228.51 689.35h7l-3.5 6.1z"/><path d="M228.51 694.35h7l-3.5 6.1z"/><path d="M234.35 636.85h7l-3.5 6.1z"/><path d="M234.35 672.65h7l-3.5 6.1z"/><path d="M234.35 682.65h7l-3.5 6.1z"/><path d="M234.35 709.35h7l-3.5 6.1z"/><path d="M234.35 721.85h7l-3.5 6.1z"/><path d="M240.2 656.85h7l-3.5 6.1z"/><path d="M240.2 682.65h7l-3.5 6.1z"/><path d="M240.2 685.95h7l-3.5 6.1z"/><path d="M240.2 692.65h7l-3.5 6.1z"/><path d="M240.2 699.35h7l-3.5 6.1z"/><path d="M240.2 705.95h7l-3.5 6.1z"/><path d="M240.2 716.85h7l-3.5 6.1z"/><path d="M246.04 636.85h7l-3.5 6.1z"/><path d="M246.04 694.35h7l-3.5 6.1z"/><path d="M246.04 698.45h7l-3.5 6.1z"/><path d="M246.04 710.95h7l-3.5 6.1z"/><path d="M251.89 686.85h7l-3.5 6.1z"/><path d="M251.89 703.45h7l-3.5 6.1z"/><path d="M251.89 710.15h7l-3.5 6.1z"/><path d="M257.74 670.95h7l-3.5 6.1z"/><path d="M257.74 704.35h7l-3.5 6.1z"/><path d="M257.74 714.35h7l-3.5 6.1z"/><path d="M263.58 721.85h7l-3.5 6.1z"/><path d="M263.58 730.95h7l-3.5 6.1z"/><path d="M263.58 736.85h7l-3.5 6.1z"/><path d="M269.42 706.85h7l-3.5 6.1z"/><path d="M269.42 741.85h7l-3.5 6.1z"/><path d="M269.42 755.95h7l-3.5 6.1z"/><path d="M304.5 735.15h7l-3.5 6.1z"/><path d="M310.34 726.05h7l-3.5 6.1z"/><path d="M316.18 741.85h7l-3.5 6.1z"/><path d="M345.41 756.15h7l-3.5 6.1z"/><path d="M380.48 795.15h7l-3.5 6.1z"/><path d="M386.32 728.9h7l-3.5 6.1z"/><path d="M386.32 738.9h7l-3.5 6.1z"/><path d="M386.32 751.4h7l-3.5 6.1z"/><path d="M392.17 743.9h7l-3.5 6.1z"/><path d="M392.17 751.4h7l-3.5 6.1z"/><path d="M398.01 743.9h7l-3.5 6.1z"/><path d="M398.01 776.4h7l-3.5 6.1z"/><path d="M403.86 712.65h7l-3.5 6.1z"/><path d="M403.86 716.4h7l-3.5 6.1z"/></g>
<rect x="430.5" y="530.5" width="151.5" height="128.1" fill="#fff" stroke="#3c3c3c" stroke-width="1.1"/><text x="479.3" y="565" class="ax">Direct (T<tspan dy="7.3" dx="0.6" font-size="17">e</tspan><tspan dy="-7.3" dx="0.6">)</tspan></text><text x="478.5" y="590" class="ax">Pilyugin</text><text x="478.5" y="614.5" class="ax">McGaugh</text><text x="478.5" y="639.4" class="ax">Zaritsky</text><rect x="446.6" y="555.6" width="5.6" height="5.6" fill="#fff" stroke="#555" stroke-width="1"/><circle cx="449.4" cy="584" r="3.5" fill="#000"/><path d="M445.2 609h8.4M449.4 604.8v8.4" stroke="#525252" stroke-width="1" fill="none" shape-rendering="crispEdges"/><g fill="#000"><path d="M445.2 631.15h8.4l-4.2 6.9z"/></g>
<rect x="83.7" y="879.75" width="96.9" height="39" fill="#fff" stroke="#333" stroke-width="1.1"/>
<text x="90.4" y="904.7" class="ng" style="font-size:17.6px">NGC 5457</text>
</g>
</g>
</svg>
</body>
</html>
